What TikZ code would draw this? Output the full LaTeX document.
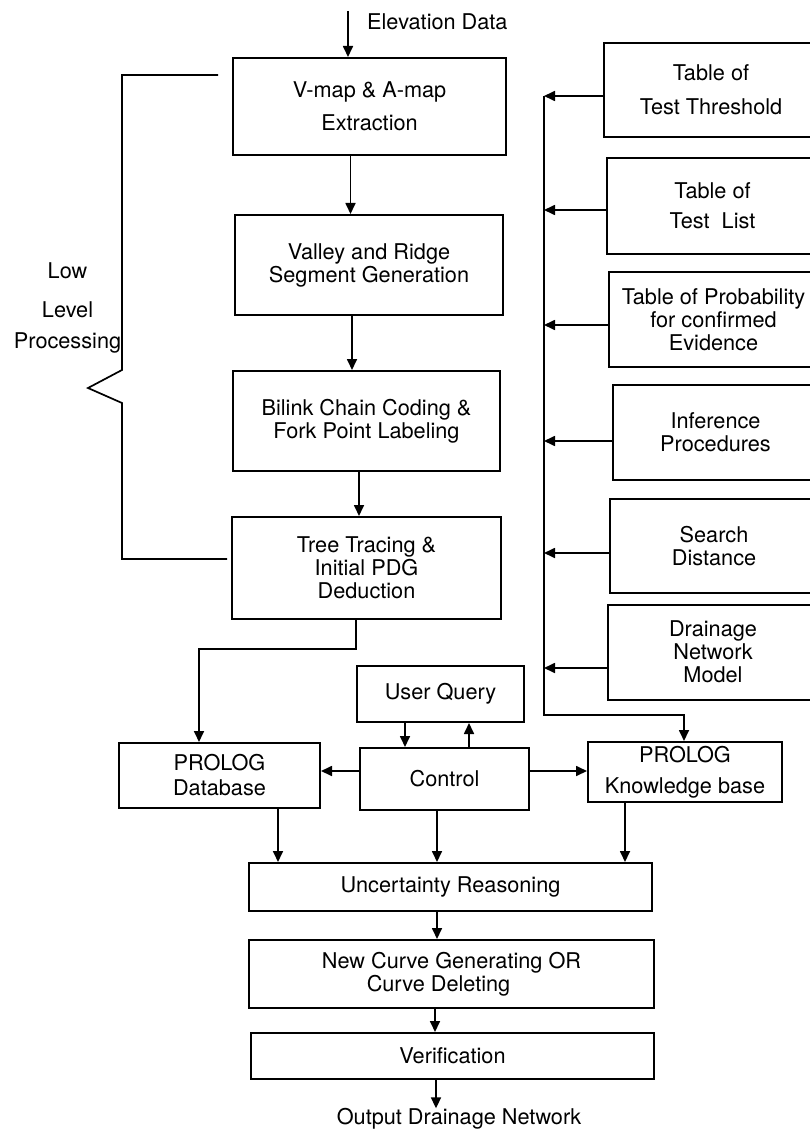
\documentclass[tikz,border=0pt]{standalone}
\usepackage{fontspec}
\setmainfont{TeX Gyre Heros}
\usetikzlibrary{arrows.meta}
\begin{document}
\begin{tikzpicture}[x=1pt,y=-1pt,
  txt/.style={font=\fontsize{21.7pt}{23pt}\selectfont},
  box/.style={draw, line width=2pt, inner sep=0pt, align=center, txt},
  lbl/.style={inner sep=0pt, align=center, txt},
  conn/.style={line width=1.7pt},
  arr/.style={conn, -{Triangle[length=11pt,width=10pt]}}]
\clip (0,0) rectangle (810,1131);
\fill[white] (0,0) rectangle (810,1131);

% left column
\node[box, minimum width=273pt, minimum height=97pt] (b1) at (369.5,106.5) {V-map \& A-map\\[10pt]Extraction};
\node[box, minimum width=268pt, minimum height=100pt] (b2) at (369,265) {Valley and Ridge\\Segment Generation};
\node[box, minimum width=267pt, minimum height=100pt] (b3) at (366.5,421) {Bilink Chain Coding \&\\Fork Point Labeling};
\node[box, minimum width=269pt, minimum height=102pt] (b4) at (366.5,568) {Tree Tracing \&\\Initial PDG\\Deduction};

% right column
\node[box, minimum width=214pt, minimum height=94pt] (tt) at (711,90) {Table of\\[11pt]Test Threshold};
\node[box, minimum width=211pt, minimum height=96pt] (tl) at (712.5,206) {Table of\\[7pt]Test\ \ List};
\node[box, minimum width=209pt, minimum height=95pt] (tp) at (713.5,319.5) {Table of Probability\\for confirmed\\Evidence};
\node[box, minimum width=205pt, minimum height=95pt] (inf) at (715.5,432.5) {Inference\\Procedures};
\node[box, minimum width=208pt, minimum height=94pt] (sd) at (714,546) {Search\\Distance};
\node[box, minimum width=210pt, minimum height=95pt] (dn) at (713,652) {Drainage\\Network\\Model};

% middle row
\node[box, minimum width=201pt, minimum height=65pt] (db) at (219.5,775.5) {PROLOG\\[2pt]Database};
\node[box, minimum width=167pt, minimum height=56pt] (uq) at (440.5,694) {User Query};
\node[box, minimum width=169pt, minimum height=62pt] (ctl) at (444.5,779) {Control};
\node[box, minimum width=194pt, minimum height=60pt] (kb) at (685,772) {PROLOG\\[8pt]Knowledge base};

% bottom
\node[box, minimum width=403pt, minimum height=48pt] (ur) at (450.5,887) {Uncertainty Reasoning};
\node[box, minimum width=405pt, minimum height=68pt] (nc) at (451.5,974) {New Curve Generating OR\\Curve Deleting\hspace*{26pt}\null};
\node[box, minimum width=403pt, minimum height=46pt] (vf) at (452.5,1056) {Verification};

% labels
\node[lbl, anchor=west] (elev) at (367,22) {Elevation Data};
\node[lbl] (out) at (459,1119) {Output Drainage Network};
\node[lbl] (low) at (67.5,308) {Low\\[16pt]Level\\[8pt]Processing};

% bracket
\draw[conn] (218,75) -- (122,75) -- (122,370) -- (88,388) -- (122,403) -- (122,559) -- (227,559);

% top input
\coordinate (e0) at (348,11);
\draw[arr] (e0) -- (e0 |- b1.north);

% left column connectors
\draw[arr] ([xshift=-19pt]b1.south) -- ([xshift=-19pt]b1.south |- b2.north);
\draw[arr] ([xshift=-17pt]b2.south) -- ([xshift=-17pt]b2.south |- b3.north);
\draw[arr] ([xshift=-7.5pt]b3.south) -- ([xshift=-7.5pt]b3.south |- b4.north);
\coordinate (j1) at (300,649);
\draw[arr] ([xshift=-10.5pt]b4.south) |- (j1) -| ([xshift=-20.5pt]db.north);

% right bus
\coordinate (bt) at (544,96);
\coordinate (bb) at (544,715);
\draw[arr] (bt) -- (bb) -| ([xshift=-1pt]kb.north);
\draw[arr] ([yshift=-6pt]tt.west) -- ([yshift=-6pt]tt.west -| bt);
\draw[arr] ([yshift=-4pt]tl.west) -- ([yshift=-4pt]tl.west -| bt);
\draw[arr] ([yshift=-5.5pt]tp.west) -- ([yshift=-5.5pt]tp.west -| bt);
\draw[arr] ([yshift=-8.5pt]inf.west) -- ([yshift=-8.5pt]inf.west -| bt);
\draw[arr] ([yshift=-7pt]sd.west) -- ([yshift=-7pt]sd.west -| bt);
\draw[arr] ([yshift=-16pt]dn.west) -- ([yshift=-16pt]dn.west -| bt);

% control connections
\draw[arr] ([xshift=-35.5pt]uq.south) -- ([xshift=-35.5pt]uq.south |- ctl.north);
\draw[arr] ([xshift=28.5pt]uq.south |- ctl.north) -- ([xshift=28.5pt]uq.south);
\draw[arr] ([yshift=8pt]ctl.west) -- ([yshift=8pt]ctl.west -| db.east);
\draw[arr] ([yshift=8pt]ctl.east) -- ([yshift=8pt]ctl.east -| kb.west);

% into uncertainty reasoning
\draw[arr] ([xshift=58.5pt]db.south) -- ([xshift=58.5pt]db.south |- ur.north);
\draw[arr] ([xshift=-7.5pt]ctl.south) -- ([xshift=-7.5pt]ctl.south |- ur.north);
\draw[arr] ([xshift=-60pt]kb.south) -- ([xshift=-60pt]kb.south |- ur.north);

% bottom chain
\draw[arr] ([xshift=-13.5pt]ur.south) -- ([xshift=-13.5pt]ur.south |- nc.north);
\draw[arr] ([xshift=-16.5pt]nc.south) -- ([xshift=-16.5pt]nc.south |- vf.north);
\draw[arr] ([xshift=-16.5pt]vf.south) -- ([xshift=-23pt]out.north);
\end{tikzpicture}
\end{document}
